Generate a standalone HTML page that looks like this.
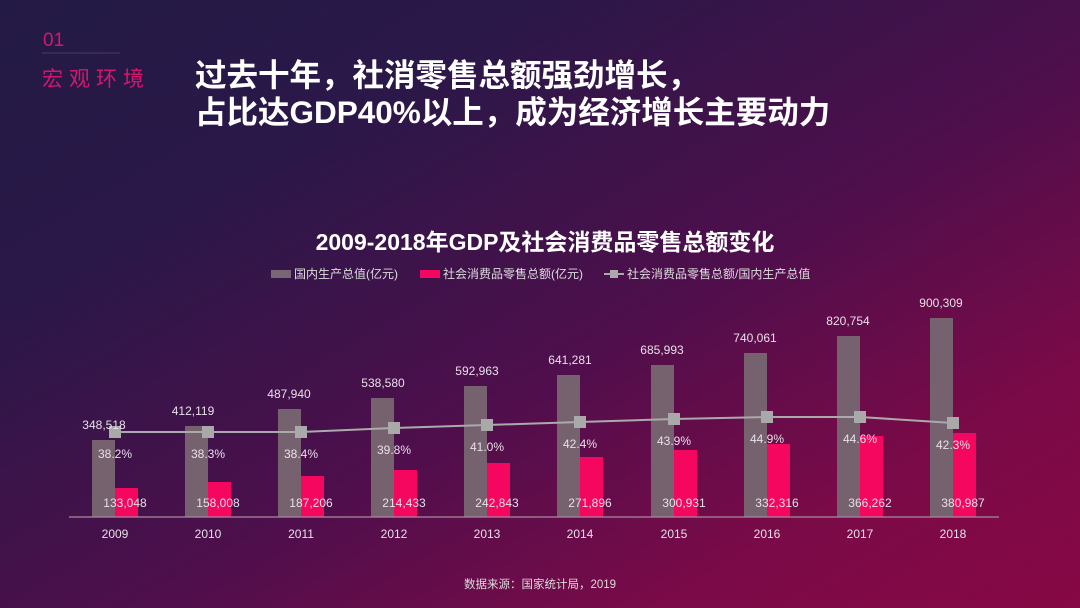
<!DOCTYPE html>
<html><head><meta charset="utf-8"><style>
html,body{margin:0;padding:0;width:1080px;height:608px;overflow:hidden}
body{background:linear-gradient(150deg,#231a45 0%,#2a1848 25%,#4d0f4c 55%,#7a0a48 80%,#860844 100%);font-family:"Liberation Sans","Noto Sans CJK SC",sans-serif}
svg{position:absolute;left:0;top:0}
</style></head><body>
<svg width="1080" height="608" viewBox="0 0 1080 608" font-family="Liberation Sans, Noto Sans CJK SC, sans-serif">
<text x="43" y="46" fill="#d4176e" font-size="19">01</text>
<line x1="42" y1="53" x2="120" y2="53" stroke="#4a3a6a" stroke-width="1"/>
<text x="42" y="86" fill="#d4176e" font-size="21" letter-spacing="6">宏观环境</text>
<text x="195" y="86" fill="#fff" font-size="31.5" font-weight="bold">过去十年，社消零售总额强劲增长，</text>
<text x="195" y="123" fill="#fff" font-size="31.5" font-weight="bold">占比达GDP40%以上，成为经济增长主要动力</text>
<text x="545" y="250" fill="#fff" font-size="23" font-weight="bold" text-anchor="middle">2009-2018年GDP及社会消费品零售总额变化</text>
<g font-size="12" fill="#ddd">
<rect x="271" y="270" width="20" height="8" fill="#7a6574"/><text x="294" y="278">国内生产总值(亿元)</text>
<rect x="420" y="270" width="20" height="8" fill="#f5065f"/><text x="443" y="278">社会消费品零售总额(亿元)</text>
<line x1="604" y1="274" x2="624" y2="274" stroke="#aaa" stroke-width="2"/><rect x="610" y="270" width="8" height="8" fill="#aaa"/><text x="627" y="278">社会消费品零售总额/国内生产总值</text>
</g>
<g fill="#76626f">
<rect x="92" y="440" width="23" height="77"/><rect x="185" y="426" width="23" height="91"/><rect x="278" y="409" width="23" height="108"/><rect x="371" y="398" width="23" height="119"/><rect x="464" y="386" width="23" height="131"/><rect x="557" y="375" width="23" height="142"/><rect x="651" y="365" width="23" height="152"/><rect x="744" y="353" width="23" height="164"/><rect x="837" y="336" width="23" height="181"/><rect x="930" y="318" width="23" height="199"/>
</g>
<g fill="#f5065f">
<rect x="115" y="488" width="23" height="29"/><rect x="208" y="482" width="23" height="35"/><rect x="301" y="476" width="23" height="41"/><rect x="394" y="470" width="23" height="47"/><rect x="487" y="463" width="23" height="54"/><rect x="580" y="457" width="23" height="60"/><rect x="674" y="450" width="23" height="67"/><rect x="767" y="444" width="23" height="73"/><rect x="860" y="436" width="23" height="81"/><rect x="953" y="433" width="23" height="84"/>
</g>
<line x1="69" y1="517" x2="999" y2="517" stroke="#a88a9c" stroke-width="1.2"/>
<polyline points="115,432 208,432 301,432 394,428 487,425 580,422 674,419 767,417 860,417 953,423" fill="none" stroke="#aaa" stroke-width="2"/>
<g fill="#a9a9a9">
<rect x="109" y="426" width="12" height="12"/><rect x="202" y="426" width="12" height="12"/><rect x="295" y="426" width="12" height="12"/><rect x="388" y="422" width="12" height="12"/><rect x="481" y="419" width="12" height="12"/><rect x="574" y="416" width="12" height="12"/><rect x="668" y="413" width="12" height="12"/><rect x="761" y="411" width="12" height="12"/><rect x="854" y="411" width="12" height="12"/><rect x="947" y="417" width="12" height="12"/>
</g>
<g font-size="12" fill="#e8e0e8" text-anchor="middle">
<text x="104" y="429">348,518</text><text x="193" y="415">412,119</text><text x="289" y="398">487,940</text><text x="383" y="387">538,580</text><text x="477" y="375">592,963</text><text x="570" y="364">641,281</text><text x="662" y="354">685,993</text><text x="755" y="342">740,061</text><text x="848" y="325">820,754</text><text x="941" y="307">900,309</text>
<text x="115" y="458">38.2%</text><text x="208" y="458">38.3%</text><text x="301" y="458">38.4%</text><text x="394" y="454">39.8%</text><text x="487" y="451">41.0%</text><text x="580" y="448">42.4%</text><text x="674" y="445">43.9%</text><text x="767" y="443">44.9%</text><text x="860" y="443">44.6%</text><text x="953" y="449">42.3%</text>
<text x="125" y="507">133,048</text><text x="218" y="507">158,008</text><text x="311" y="507">187,206</text><text x="404" y="507">214,433</text><text x="497" y="507">242,843</text><text x="590" y="507">271,896</text><text x="684" y="507">300,931</text><text x="777" y="507">332,316</text><text x="870" y="507">366,262</text><text x="963" y="507">380,987</text>
<text x="115" y="538">2009</text><text x="208" y="538">2010</text><text x="301" y="538">2011</text><text x="394" y="538">2012</text><text x="487" y="538">2013</text><text x="580" y="538">2014</text><text x="674" y="538">2015</text><text x="767" y="538">2016</text><text x="860" y="538">2017</text><text x="953" y="538">2018</text>
</g>
<text x="540" y="588" fill="#ddd" font-size="11.5" text-anchor="middle">数据来源：国家统计局，2019</text>
</svg>
</body></html>
